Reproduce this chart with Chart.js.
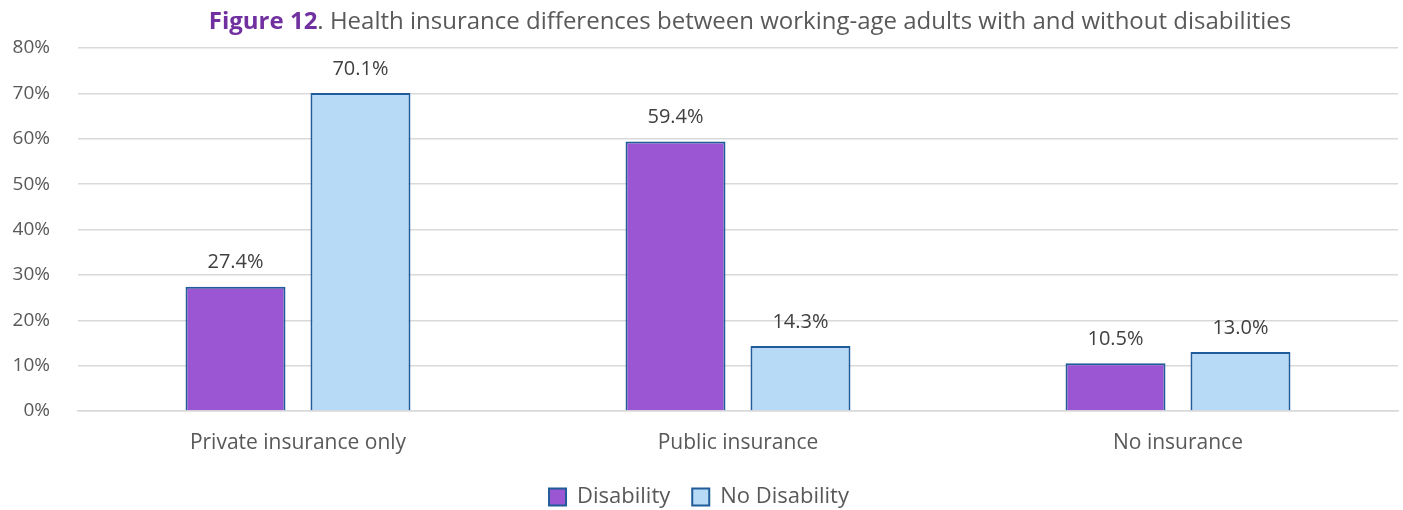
<!DOCTYPE html>
<html>
<head>
<meta charset="utf-8">
<script src="https://cdn.jsdelivr.net/npm/chart.js@4"></script>
<style>
  html, body { margin: 0; padding: 0; background: #fff; }
  #wrap { width: 1403px; height: 510px; }
</style>
</head>
<body>
<div id="wrap"><canvas id="chart" width="1403" height="510"></canvas></div>
<script>
// Chart data
const categories = ['Private insurance only', 'Public insurance', 'No insurance'];
const disability = [27.4, 59.4, 10.5];
const noDisability = [70.1, 14.3, 13.0];
const yTicks = [0, 10, 20, 30, 40, 50, 60, 70, 80];

const FONT = '"Open Sans", Lato, sans-serif';
const TEXT = '#595959';

// Two-tone title drawn above the plot
const titlePlugin = {
  id: 'twoToneTitle',
  afterDraw(chart) {
    const ctx = chart.ctx;
    const part1 = 'Figure 12';
    const part2 = '. Health insurance differences between working-age adults with and without disabilities';
    ctx.save();
    ctx.textBaseline = 'middle';
    ctx.font = 'bold 24px ' + FONT;
    const w1 = ctx.measureText(part1).width;
    ctx.font = '24px ' + FONT;
    const w2 = ctx.measureText(part2).width;
    const x0 = 750 - (w1 + w2) / 2;
    ctx.font = 'bold 24px ' + FONT;
    ctx.fillStyle = '#7030A0';
    ctx.fillText(part1, x0, 22);
    ctx.font = '24px ' + FONT;
    ctx.fillStyle = TEXT;
    ctx.fillText(part2, x0 + w1, 22);
    ctx.restore();
  }
};

// Value labels above each bar
const valueLabels = {
  id: 'valueLabels',
  afterDatasetsDraw(chart) {
    const ctx = chart.ctx;
    ctx.save();
    ctx.font = '20px ' + FONT;
    ctx.fillStyle = '#404040';
    ctx.textAlign = 'center';
    ctx.textBaseline = 'middle';
    chart.data.datasets.forEach((ds, i) => {
      chart.getDatasetMeta(i).data.forEach((bar, j) => {
        ctx.fillText(ds.data[j].toFixed(1) + '%', bar.x, bar.y - 24);
      });
    });
    ctx.restore();
  }
};

// Fix legend height so it sits near the bottom edge
const legendFit = {
  id: 'legendFit',
  beforeInit(chart) {
    const origFit = chart.legend.fit;
    chart.legend.fit = function () {
      origFit.call(this);
      this.height = 46;
    };
  }
};

new Chart(document.getElementById('chart'), {
  type: 'bar',
  data: {
    labels: categories,
    datasets: [
      {
        label: 'Disability',
        data: disability,
        backgroundColor: '#9B57D3',
        borderColor: '#1F5C99',
        borderWidth: 2,
        categoryPercentage: 0.568,
        barPercentage: 0.8
      },
      {
        label: 'No Disability',
        data: noDisability,
        backgroundColor: '#B7DBF6',
        borderColor: '#1F5C99',
        borderWidth: 2,
        categoryPercentage: 0.568,
        barPercentage: 0.8
      }
    ]
  },
  options: {
    responsive: false,
    animation: false,
    layout: { padding: { top: 48, right: 5, left: 0, bottom: 0 } },
    scales: {
      x: {
        grid: { display: false },
        border: { color: '#d9d9d9', width: 1.5 },
        ticks: { color: TEXT, font: { family: FONT, size: 21 }, padding: 11 },
        afterFit(axis) { axis.height = 53; }
      },
      y: {
        min: 0,
        max: 80,
        afterBuildTicks(axis) { axis.ticks = yTicks.map(v => ({ value: v })); },
        afterFit(axis) { axis.width = 78; },
        grid: { color: '#d9d9d9', lineWidth: 1.5, drawTicks: false },
        border: { display: false },
        ticks: {
          color: TEXT,
          font: { family: FONT, size: 19 },
          padding: 28,
          callback: v => v + '%'
        }
      }
    },
    plugins: {
      legend: {
        position: 'bottom',
        labels: {
          color: TEXT,
          font: { family: FONT, size: 22 },
          boxWidth: 17,
          boxHeight: 17,
          padding: 22
        }
      },
      tooltip: { enabled: false }
    }
  },
  plugins: [titlePlugin, valueLabels, legendFit]
});
</script>
</body>
</html>
